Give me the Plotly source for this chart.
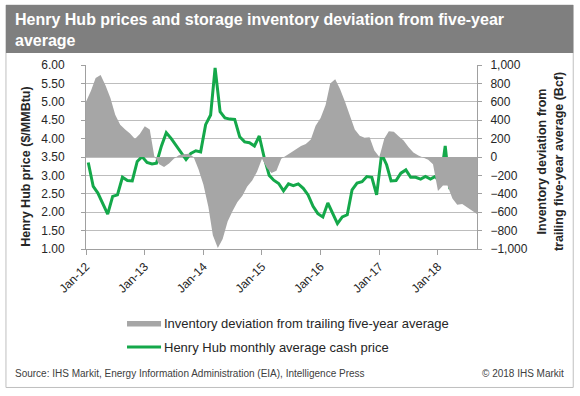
import pandas as pd
import plotly.graph_objects as go

# ---------------- data ----------------
price_start = "2011-12-15"   # monthly points plotted mid-month
price = [3.35,
         2.70, 2.52, 2.22, 1.95, 2.43, 2.47, 2.95, 2.86, 2.85, 3.38, 3.51, 3.35,
         3.31, 3.33, 3.80, 4.16, 4.00, 3.82, 3.62, 3.43, 3.60, 3.67, 3.64, 4.38,
         4.64, 5.92, 4.73, 4.56, 4.53, 4.52, 4.05, 3.91, 3.89, 3.80, 4.07, 3.48,
         3.00, 2.87, 2.78, 2.58, 2.77, 2.72, 2.77, 2.65, 2.47, 2.16, 1.96, 1.87,
         2.25, 1.98, 1.69, 1.87, 1.93, 2.61, 2.79, 2.83, 2.97, 2.95, 2.47, 3.58,
         3.29, 2.85, 2.86, 3.06, 3.15, 2.95, 2.95, 2.90, 2.97, 2.90, 2.97, 2.81,
         3.80, 2.67, 2.68, 2.74, 2.77, 2.93, 2.86, 2.93]

storage_start = "2012-01-01"
storage = [600, 720, 860, 890, 780, 640, 460, 350, 300, 255, 195, 250,
           335, 300, 10, -80, -110, -70, -20, 20, 30, 35, 0, -130,
           -300, -540, -850, -990, -890, -700, -590, -490, -420, -320, -255, -160,
           -20, -120, -175, -150, -20, 20, 50, 85, 120, 140, 190, 340,
           425, 565, 800, 845, 740, 600, 450, 300, 230, 210, 215, 70,
           0, 200, 280, 275, 225, 180, 110, 50, 15, -10, -30, -80,
           -370, -310, -310, -450, -520, -510, -545, -590, -620]

price_dates = pd.date_range(price_start, periods=len(price), freq="MS") + pd.Timedelta(days=14)
storage_dates = pd.date_range(storage_start, periods=len(storage), freq="MS")

x_range = ["2012-01-01", "2018-09-01"]
tick_vals = pd.date_range("2012-01-01", "2018-01-01", freq="YS")
tick_text = [d.strftime("%b-%y") for d in tick_vals]

title_lines = ["Henry Hub prices and storage inventory deviation from five-year", "average"]
legend_area = "Inventory deviation from trailing five-year average"
legend_line = "Henry Hub monthly average cash price"
source_txt = "Source: IHS Markit, Energy Information Administration (EIA), Intelligence Press"
copy_txt = "© 2018 IHS Markit"

# ---------------- layout geometry (pixels) ----------------
W, H = 580, 396
PL, PR, PT, PB = 86, 476.8, 65, 249.3
pw, ph = PR - PL, PB - PT


def px(x):
    return (x - PL) / pw


def py(y):
    return (PB - y) / ph


FONT = "Arial, Liberation Sans, sans-serif"
GREEN = "#14A84A"
GRAY_AREA = "#A6A6A6"
TXT = "#262626"

fig = go.Figure()
fig.add_trace(go.Scatter(x=storage_dates, y=storage, yaxis="y2", mode="lines",
                         line=dict(width=0, color=GRAY_AREA), fill="tozeroy",
                         fillcolor=GRAY_AREA, showlegend=False, hoverinfo="skip"))
fig.add_trace(go.Scatter(x=price_dates, y=price, yaxis="y", mode="lines",
                         line=dict(width=3, color=GREEN), showlegend=False))

axis_font = dict(family=FONT, size=12, color=TXT)
fig.update_layout(
    width=W, height=H,
    margin=dict(l=PL, r=W - PR, t=PT, b=H - PB, pad=0),
    paper_bgcolor="white", plot_bgcolor="white",
    xaxis=dict(type="date", range=x_range, tickvals=tick_vals, ticktext=tick_text,
               tickangle=-45, tickfont=axis_font, showgrid=False,
               showline=True, linecolor="#A0A0A0", linewidth=1,
               ticks="outside", ticklen=5, tickcolor="#A0A0A0"),
    yaxis=dict(range=[1, 6], dtick=0.5, tick0=1, tickformat=".2f", tickfont=axis_font,
               showgrid=True, gridcolor="#BDBDBD", gridwidth=1, zeroline=False,
               showline=True, linecolor="#A0A0A0", linewidth=1,
               ticks="outside", ticklen=4, tickcolor="#A0A0A0", ticklabelstandoff=14),
    yaxis2=dict(range=[-1000, 1000], dtick=200, tick0=-1000, tickformat=",d",
                tickfont=axis_font, overlaying="y", side="right", showgrid=False,
                zeroline=False, showline=True, linecolor="#A0A0A0", linewidth=1,
                ticks="outside", ticklen=4, tickcolor="#A0A0A0", ticklabelstandoff=6),
    showlegend=False,
)

shapes = []
# outer border
shapes.append(dict(type="rect", xref="paper", yref="paper",
                   x0=px(6), x1=px(573), y0=py(388), y1=py(5),
                   line=dict(color="#BFBFBF", width=1), fillcolor="rgba(0,0,0,0)", layer="below"))
# title band
shapes.append(dict(type="rect", xref="paper", yref="paper",
                   x0=px(6), x1=px(573), y0=py(53), y1=py(5),
                   line=dict(width=0), fillcolor="#7F7F7F", layer="above"))
# legend swatches
shapes.append(dict(type="rect", xref="paper", yref="paper",
                   x0=px(127), x1=px(161), y0=py(327), y1=py(321.5),
                   line=dict(width=0), fillcolor=GRAY_AREA))
shapes.append(dict(type="line", xref="paper", yref="paper",
                   x0=px(127), x1=px(161), y0=py(347.5), y1=py(347.5),
                   line=dict(width=3, color=GREEN)))
fig.update_layout(shapes=shapes)

ann = []
ann.append(dict(text="<b>" + title_lines[0] + "<br>" + title_lines[1] + "</b>",
                xref="paper", yref="paper", x=px(13), y=py(9), xanchor="left", yanchor="top",
                align="left", showarrow=False,
                font=dict(family=FONT, size=16, color="white")))
ann.append(dict(text="<b>Henry Hub price ($/MMBtu)</b>", textangle=-90,
                xref="paper", yref="paper", x=px(26), y=py(167), xanchor="center", yanchor="middle",
                showarrow=False, font=dict(family=FONT, size=12.5, color=TXT)))
ann.append(dict(text="<b>Inventory deviation from<br>trailing five-year average (Bcf)</b>", textangle=-90,
                xref="paper", yref="paper", x=px(550), y=py(162), xanchor="center", yanchor="middle",
                showarrow=False, font=dict(family=FONT, size=12.5, color=TXT)))
ann.append(dict(text=legend_area, xref="paper", yref="paper", x=px(162), y=py(324.3),
                xanchor="left", yanchor="middle", showarrow=False,
                font=dict(family=FONT, size=13, color=TXT)))
ann.append(dict(text=legend_line, xref="paper", yref="paper", x=px(162), y=py(347.5),
                xanchor="left", yanchor="middle", showarrow=False,
                font=dict(family=FONT, size=13, color=TXT)))
ann.append(dict(text=source_txt, xref="paper", yref="paper", x=px(13), y=py(374.5),
                xanchor="left", yanchor="middle", showarrow=False,
                font=dict(family=FONT, size=10, color="#404040")))
ann.append(dict(text=copy_txt, xref="paper", yref="paper", x=px(566), y=py(374.5),
                xanchor="right", yanchor="middle", showarrow=False,
                font=dict(family=FONT, size=10, color="#404040")))
fig.update_layout(annotations=ann)

fig.write_html("out.html", config={"displayModeBar": False},
               post_script="document.body.style.margin='0';")
